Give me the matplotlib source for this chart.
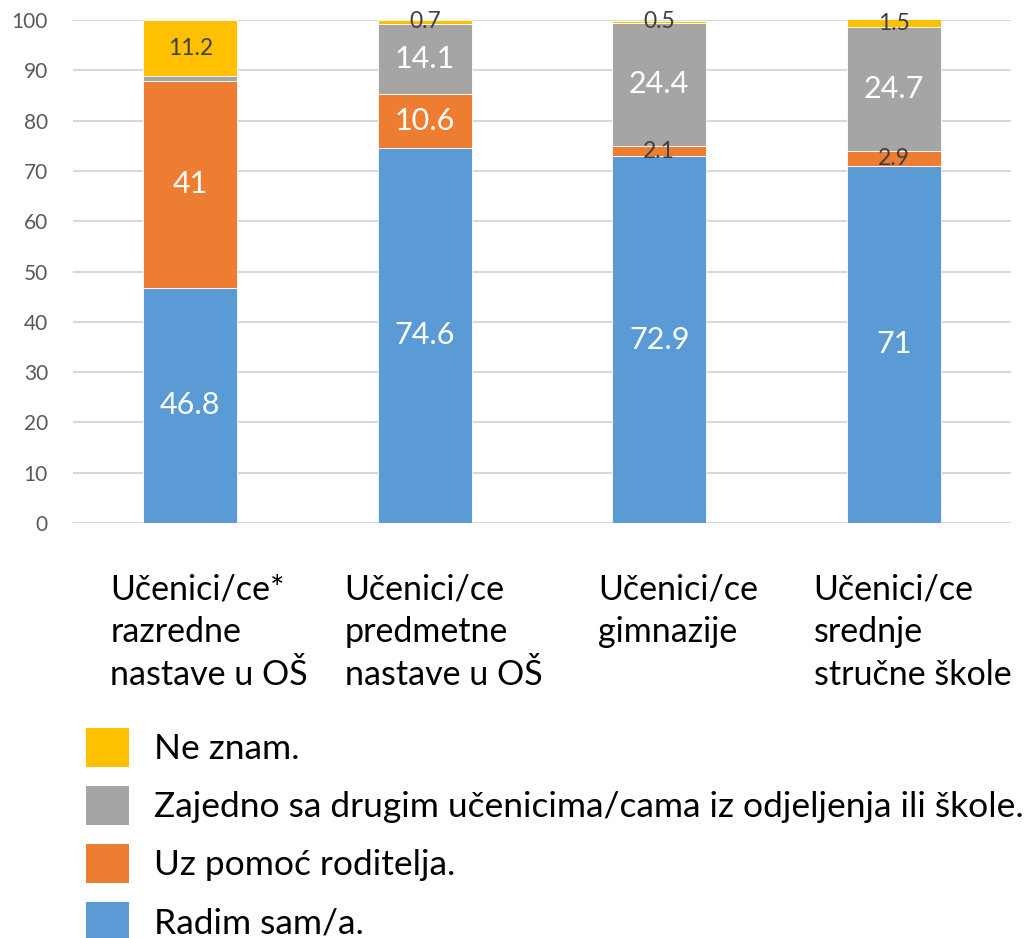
import matplotlib
matplotlib.use('Agg')
import matplotlib.pyplot as plt
from matplotlib.patches import Patch

plt.rcParams['font.family'] = ['Lato', 'DejaVu Sans']

categories = ['Učenici/ce*\nrazredne\nnastave u OŠ',
              'Učenici/ce\npredmetne\nnastave u OŠ',
              'Učenici/ce\ngimnazije',
              'Učenici/ce\nsrednje\nstručne škole']
series_names = ['Radim sam/a.',
                'Uz pomoć roditelja.',
                'Zajedno sa drugim učenicima/cama iz odjeljenja ili škole.',
                'Ne znam.']
radim = [46.8, 74.6, 72.9, 71]
roditelji = [41, 10.6, 2.1, 2.9]
zajedno = [1.0, 14.1, 24.4, 24.7]
ne_znam = [11.2, 0.7, 0.5, 1.5]
# the small grey piece in the first bar carries no label in the original
labels = [
    ['46.8', '74.6', '72.9', '71'],
    ['41', '10.6', '2.1', '2.9'],
    ['', '14.1', '24.4', '24.7'],
    ['11.2', '0.7', '0.5', '1.5'],
]

colors = ['#5B9BD5', '#ED7D31', '#A5A5A5', '#FFC000']

fig = plt.figure(figsize=(10.35, 9.38), dpi=100)
ax = fig.add_axes([73 / 1035, 1 - 523 / 938, 938 / 1035, 503 / 938])

x = list(range(len(categories)))
bottom = [0.0] * len(categories)
for vals, col, labs in zip([radim, roditelji, zajedno, ne_znam], colors, labels):
    ax.bar(x, vals, width=0.4, bottom=bottom, color=col,
           edgecolor='white', linewidth=0.6, zorder=2)
    for i, (v, b, lab) in enumerate(zip(vals, bottom, labs)):
        if not lab:
            continue
        if v >= 5 and col != '#FFC000':
            ax.text(i, b + v / 2, lab, ha='center', va='center',
                    color='white', fontsize=22, zorder=3)
        else:
            ax.text(i, b + v / 2, lab, ha='center', va='center',
                    color='#404040', fontsize=16.5, zorder=3)
    bottom = [b + v for b, v in zip(bottom, vals)]

ax.set_xlim(-0.5, 3.5)
ax.set_ylim(0, 100)
ax.set_yticks(range(0, 101, 10))
ax.yaxis.grid(True, color='#D9D9D9', linewidth=1.5, zorder=0)
ax.set_axisbelow(True)
for s in ax.spines.values():
    s.set_visible(False)
ax.tick_params(axis='y', length=0, pad=18, labelsize=15, labelcolor='#595959')
ax.set_xticks([])

for i, lab in enumerate(categories):
    ax.text(i + 0.08, -10.0, lab, ha='center', va='top', multialignment='left',
            fontsize=24.5, linespacing=1.42, color='black', clip_on=False)

handles = [Patch(facecolor=c) for c in colors][::-1]
fig.legend(handles, series_names[::-1], loc='upper left',
           bbox_to_anchor=(86 / 1035, 1 - 728 / 938), frameon=False,
           fontsize=25.5, borderpad=0, borderaxespad=0,
           handlelength=1.22, handleheight=1.3, handletextpad=0.7,
           labelspacing=0.55)

fig.savefig('out.png', dpi=100)
